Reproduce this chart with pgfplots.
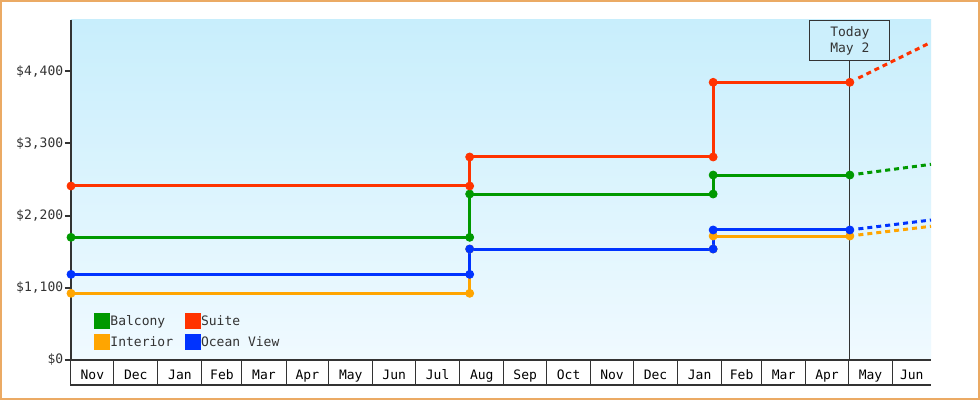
\documentclass[border=0pt]{standalone}
\usepackage{fontspec}
\setmainfont{DejaVu Sans Mono}
\usepackage{pgfplots}
\pgfplotsset{compat=1.18}
\definecolor{balc}{HTML}{009900}
\definecolor{suite}{HTML}{FF3300}
\definecolor{inter}{HTML}{FFA500}
\definecolor{ocean}{HTML}{0033FF}
\definecolor{axisgray}{HTML}{333333}
\definecolor{bgtop}{RGB}{200,238,252}
\definecolor{bgbot}{RGB}{240,250,255}
\definecolor{boxfill}{RGB}{204,239,252}
\definecolor{frame}{RGB}{235,170,100}
\begin{document}
\begin{tikzpicture}[x=1pt,y=1pt]
\useasboundingbox (0,0) rectangle (980,400);
\fill[white] (0,0) rectangle (980,400);
\draw[frame, line width=2pt] (1,1) rectangle (979,399);
\begin{axis}[
    at={(71pt,40pt)}, anchor=south west,
    scale only axis, width=860pt, height=340pt,
    xmin=0, xmax=604, ymin=0, ymax=5180,
    clip=false,
    axis x line*=bottom, axis y line*=left,
    x axis line style={draw=axisgray, line width=1.2pt},
    y axis line style={draw=axisgray, line width=2.5pt},
    axis background/.style={top color=bgtop, bottom color=bgbot},
    tick align=outside,
    % month cell borders
    xtick={0,30,61,92,120,151,181,212,242,273,304,334,365,395,426,457,485,516,546,577},
    xticklabels={},
    xtick style={draw=axisgray, line width=1pt, /pgfplots/major tick length=25pt},
    % month names
    extra x ticks={15,45.5,76.5,106,135.5,166,196.5,227,257.5,288.5,319,349.5,380,410.5,441.5,471,500.5,531,561.5,590.5},
    extra x tick labels={Nov,Dec,Jan,Feb,Mar,Apr,May,Jun,Jul,Aug,Sep,Oct,Nov,Dec,Jan,Feb,Mar,Apr,May,Jun},
    extra x tick style={xtick style={draw=none, /pgfplots/major tick length=0pt},
      xticklabel style={yshift=-2pt}},
    xticklabel style={font=\fontsize{13}{15}\selectfont, text=black},
    ytick={0,1100,2200,3300,4400},
    yticklabels={{\$0},{\$1,100},{\$2,200},{\$3,300},{\$4,400}},
    ytick style={draw=axisgray, line width=2pt, /pgfplots/major tick length=6pt},
    yticklabel style={font=\fontsize{13}{15}\selectfont, text=axisgray},
    legend columns=2,
    legend cell align=left,
    legend image code/.code={\fill[#1] (0pt,-6.5pt) rectangle (13pt,6.5pt);},
    legend style={draw=none, fill=none, at={(0.023,0.145)}, anchor=north west,
      font=\fontsize{13}{15}\selectfont, text=axisgray,
      nodes={inner sep=0.5pt},
      /tikz/every even column/.append style={column sep=11pt},
      row sep=5pt},
  ]
  \draw[axisgray, line width=1pt] (axis cs:547,0) -- (axis cs:547,4570);
  \node[draw=axisgray, fill=boxfill, line width=1pt, anchor=north,
        minimum width=80pt, minimum height=40pt, align=center,
        font=\fontsize{13}{18}\selectfont, text=axisgray]
        at (axis cs:547,5180) {\raisebox{-2pt}{Today}\\May 2};

  \addplot[balc, line width=3pt, mark=*, mark size=4pt, mark options={line width=0.8pt}]
    coordinates {(0,1869) (280,1869) (280,2529) (451,2529) (451,2818) (547,2818)};
  \addlegendentry{Balcony}
  \addplot[suite, line width=3pt, mark=*, mark size=4pt, mark options={line width=0.8pt}]
    coordinates {(0,2651) (280,2651) (280,3093) (451,3093) (451,4231) (547,4231)};
  \addlegendentry{Suite}
  \addplot[inter, line width=3pt, mark=*, mark size=4pt, mark options={line width=0.8pt}]
    coordinates {(0,1016) (280,1016) (280,1691) (451,1691) (451,1889) (547,1889)};
  \addlegendentry{Interior}
  \addplot[ocean, line width=3pt, mark=*, mark size=4pt, mark options={line width=0.8pt}]
    coordinates {(0,1305) (280,1305) (280,1691) (451,1691) (451,1981) (547,1981)};
  \addlegendentry{Ocean View}

  % projections after today
  \addplot[balc, line width=3pt, dash pattern=on 5pt off 4pt, forget plot]
    coordinates {(553,2835) (604,2981)};
  \addplot[suite, line width=3pt, dash pattern=on 5pt off 4pt, forget plot]
    coordinates {(553,4295) (604,4840)};
  \addplot[inter, line width=3pt, dash pattern=on 5pt off 4pt, forget plot]
    coordinates {(553,1905) (604,2037)};
  \addplot[ocean, line width=3pt, dash pattern=on 5pt off 4pt, forget plot]
    coordinates {(553,1997) (604,2133)};
\end{axis}
\draw[axisgray, line width=1.2pt] (70,15) -- (931,15);
\end{tikzpicture}
\end{document}
